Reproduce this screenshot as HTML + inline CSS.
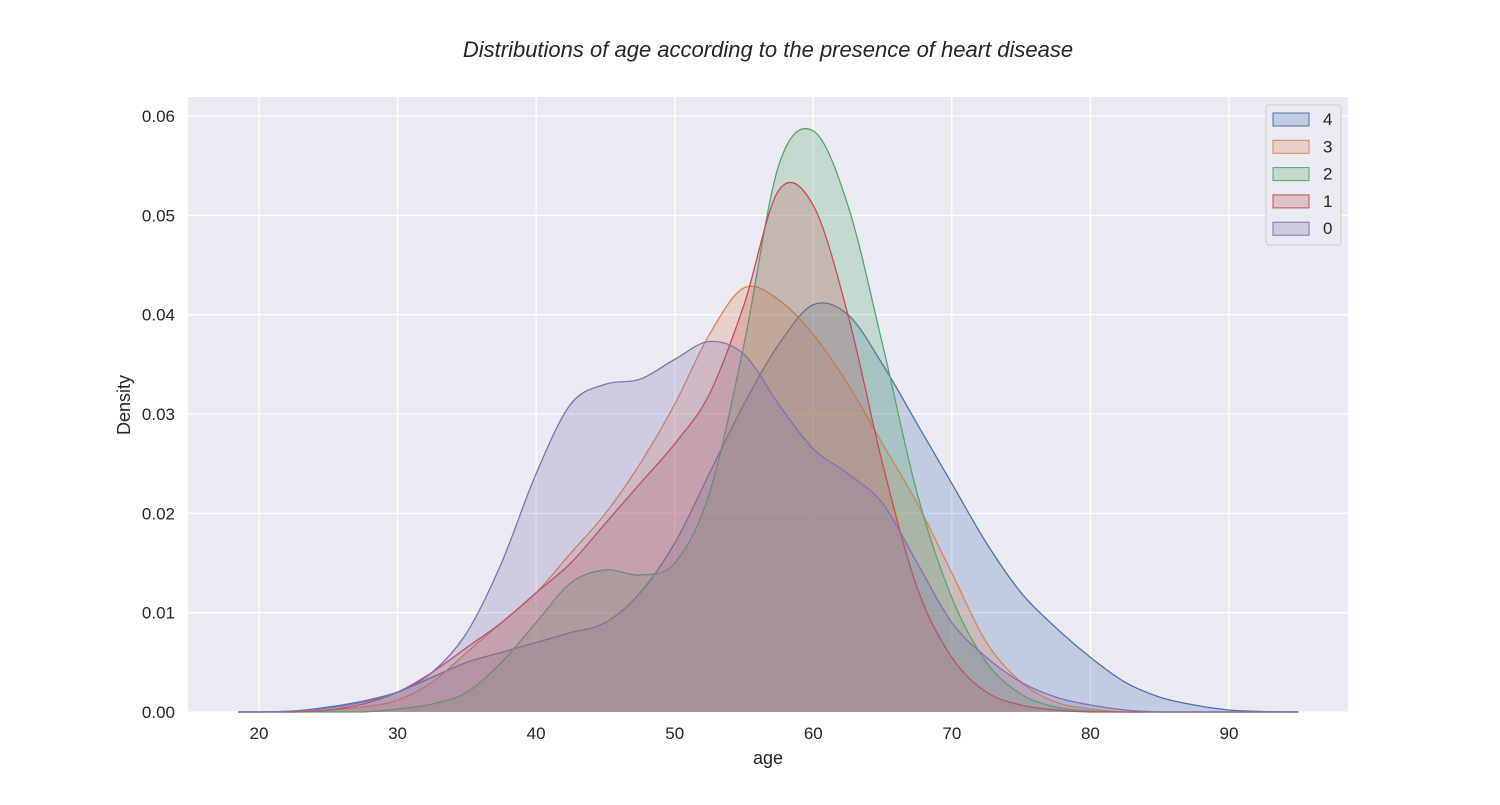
<!DOCTYPE html>
<html><head><meta charset="utf-8"><style>
body{margin:0;background:#fff;}
svg text{font-family:"Liberation Sans","DejaVu Sans",sans-serif;fill:#262626;}
</style></head><body>
<svg width="1500" height="800" xmlns="http://www.w3.org/2000/svg" id="svg">
<rect x="188" y="97" width="1160" height="615" fill="#eaeaf2"/>
<g id="grid"></g><g id="series"></g><g id="axes"></g>
<text x="768" y="57" text-anchor="middle" font-size="22" font-style="italic">Distributions of age according to the presence of heart disease</text>
<text x="768" y="764" text-anchor="middle" font-size="18">age</text>
<text x="130" y="405" text-anchor="middle" font-size="18" transform="rotate(-90 130 405)">Density</text>
<g id="legend"></g>
</svg>
<script>
const ages=[18.5,20,22.5,25,27.5,30,32.5,35,37.5,40,42.5,45,47.5,50,52.5,55,57.5,60,62.5,65,67.5,70,72.5,75,77.5,80,82.5,85,87.5,90,92.5,95];
const d4=[0,0,0.0001,0.0005,0.0011,0.002,0.0035,0.005,0.006,0.007,0.008,0.009,0.012,0.017,0.024,0.031,0.037,0.041,0.040,0.035,0.029,0.023,0.017,0.012,0.0085,0.0055,0.003,0.0015,0.0007,0.0002,0.00005,0];
const d3=[0,0,0,0.0002,0.0005,0.0012,0.003,0.006,0.009,0.012,0.016,0.020,0.025,0.031,0.038,0.0427,0.0415,0.038,0.033,0.027,0.021,0.014,0.007,0.003,0.001,0.0003,0,0,0,0,0,0];
const d2=[0,0,0,0,0,0.0003,0.0008,0.002,0.005,0.009,0.013,0.0143,0.0138,0.015,0.022,0.037,0.055,0.0585,0.051,0.037,0.022,0.0115,0.005,0.0018,0.0005,0.0001,0,0,0,0,0,0];
const d1=[0,0,0,0.0002,0.0008,0.002,0.004,0.0065,0.009,0.012,0.015,0.019,0.023,0.027,0.032,0.041,0.0525,0.051,0.040,0.025,0.0125,0.0055,0.002,0.0007,0.0002,0,0,0,0,0,0,0];
const d0=[0,0,0.0001,0.0004,0.001,0.002,0.004,0.008,0.015,0.024,0.031,0.033,0.0335,0.0355,0.0373,0.036,0.031,0.0265,0.024,0.021,0.015,0.009,0.0055,0.003,0.0015,0.0007,0.0002,0,0,0,0,0];
const xTicks=[20,30,40,50,60,70,80,90];
const yTicks=[0,0.01,0.02,0.03,0.04,0.05,0.06];
const yLabels=["0.00","0.01","0.02","0.03","0.04","0.05","0.06"];
const labels=["4","3","2","1","0"];
const colors=["#4c72b0","#dd8452","#55a868","#c44e52","#8172b3"];
const X=a=>259+(a-20)*13.857, Y=v=>712-v*9933;
const NS="http://www.w3.org/2000/svg";
function mk(t,p,at){const e=document.createElementNS(NS,t);for(const k in at)e.setAttribute(k,at[k]);p.appendChild(e);return e;}
const grid=document.getElementById('grid'),axes=document.getElementById('axes');
xTicks.forEach(t=>{const l=mk('line',grid,{x1:X(t),x2:X(t),y1:97,y2:712,stroke:'#fff','stroke-width':1.3});

const tx=mk('text',axes,{x:X(t),y:739,'text-anchor':'middle','font-size':17});tx.textContent=t;
});
yTicks.forEach((t,i)=>{const l=mk('line',grid,{x1:188,x2:1348,y1:Y(t),y2:Y(t),stroke:'#fff','stroke-width':1.3});

const tx=mk('text',axes,{x:175,y:Y(t)+6,'text-anchor':'end','font-size':17});tx.textContent=yLabels[i];
});
function smooth(pts){let d=`M${pts[0][0]},${pts[0][1]}`;for(let i=0;i<pts.length-1;i++){const p0=pts[Math.max(0,i-1)],p1=pts[i],p2=pts[i+1],p3=pts[Math.min(pts.length-1,i+2)];
const c1x=p1[0]+(p2[0]-p0[0])/6,c1y=Math.min(712,p1[1]+(p2[1]-p0[1])/6),c2x=p2[0]-(p3[0]-p1[0])/6,c2y=Math.min(712,p2[1]-(p3[1]-p1[1])/6);
d+=`C${c1x},${c1y} ${c2x},${c2y} ${p2[0]},${p2[1]}`;}return d;}
const data=[d4,d3,d2,d1,d0];const sg=document.getElementById('series');
data.forEach((ds,k)=>{const pts=ages.map((a,i)=>[X(a),Y(ds[i])]);const d=smooth(pts);
const f=mk('path',sg,{d:d+`L${X(95)},712L${X(18.5)},712Z`,fill:colors[k],'fill-opacity':0.25,stroke:'none'});

const l=mk('path',sg,{d:d,fill:'none',stroke:colors[k],'stroke-width':1.3});
});
const lg=document.getElementById('legend');
const box=mk('rect',lg,{x:1266,y:105,width:75,height:140,rx:3,fill:'#eaeaf2',stroke:'#ccc'});

labels.forEach((s,i)=>{const y=119+i*27.3;
const r=mk('rect',lg,{x:1273,y:y-6,width:36,height:13,fill:colors[i],'fill-opacity':0.25,stroke:colors[i]});

const t=mk('text',lg,{x:1323,y:y+6,'font-size':17});t.textContent=s;
});
</script>
</body></html>
